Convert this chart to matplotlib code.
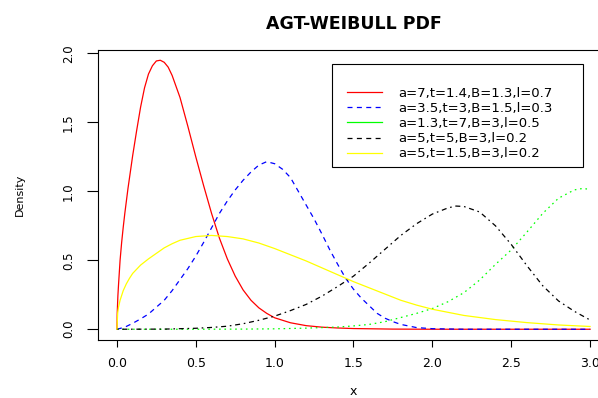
import matplotlib.pyplot as plt
from matplotlib.lines import Line2D
from matplotlib.patches import Rectangle

plt.rcParams['font.family'] = 'DejaVu Sans'

# curves
red_x = [0, 0.002, 0.006, 0.01, 0.02, 0.03, 0.04, 0.05, 0.06, 0.07, 0.08, 0.09, 0.1,
         0.125, 0.15, 0.175, 0.2, 0.225, 0.25, 0.275, 0.3, 0.325, 0.35, 0.4, 0.45, 0.5,
         0.55, 0.6, 0.65, 0.7, 0.75, 0.8, 0.85, 0.9, 0.95, 1.0, 1.1, 1.2, 1.3, 1.4, 1.5,
         1.75, 2.0, 2.5, 3.0]
red_y = [0, 0.12, 0.24, 0.32, 0.50, 0.63, 0.74, 0.84, 0.93, 1.02, 1.10, 1.18, 1.26,
         1.44, 1.61, 1.75, 1.85, 1.91, 1.945, 1.95, 1.935, 1.90, 1.84, 1.68, 1.47, 1.25,
         1.04, 0.84, 0.66, 0.51, 0.385, 0.285, 0.21, 0.155, 0.115, 0.083, 0.047, 0.026,
         0.015, 0.009, 0.005, 0.001, 0, 0, 0]

blue_x = [0, 0.05, 0.1, 0.15, 0.2, 0.25, 0.3, 0.35, 0.4, 0.45, 0.5, 0.55, 0.6, 0.65,
          0.7, 0.75, 0.8, 0.85, 0.9, 0.95, 1.0, 1.05, 1.1, 1.15, 1.2, 1.25, 1.3, 1.35,
          1.4, 1.45, 1.5, 1.55, 1.6, 1.65, 1.7, 1.75, 1.8, 1.9, 2.0, 2.2, 2.5, 3.0]
blue_y = [0, 0.015, 0.043, 0.075, 0.11, 0.16, 0.21, 0.28, 0.36, 0.44, 0.53, 0.63, 0.735,
          0.84, 0.93, 1.01, 1.08, 1.14, 1.19, 1.215, 1.20, 1.16, 1.10, 1.00, 0.90, 0.80,
          0.69, 0.575, 0.47, 0.37, 0.29, 0.225, 0.17, 0.115, 0.08, 0.055, 0.035, 0.012,
          0.004, 0, 0, 0]

green_x = [0, 0.5, 0.8, 1.0, 1.2, 1.4, 1.5, 1.6, 1.7, 1.8, 1.9, 2.0, 2.1, 2.2, 2.3, 2.4,
           2.5, 2.6, 2.7, 2.8, 2.9, 2.95, 3.0]
green_y = [0, 0, 0.001, 0.003, 0.008, 0.016, 0.024, 0.035, 0.055, 0.085, 0.115, 0.15,
           0.20, 0.265, 0.357, 0.47, 0.575, 0.705, 0.84, 0.95, 1.01, 1.02, 1.015]

black_x = [0, 0.3, 0.5, 0.6, 0.7, 0.8, 0.9, 1.0, 1.1, 1.2, 1.3, 1.4, 1.5, 1.6, 1.7, 1.8,
           1.9, 2.0, 2.1, 2.15, 2.2, 2.3, 2.4, 2.5, 2.6, 2.7, 2.8, 2.9, 3.0]
black_y = [0, 0.001, 0.007, 0.013, 0.022, 0.04, 0.065, 0.095, 0.135, 0.18, 0.24, 0.31,
           0.385, 0.48, 0.58, 0.68, 0.765, 0.835, 0.88, 0.893, 0.89, 0.85, 0.75, 0.615,
           0.46, 0.315, 0.205, 0.13, 0.067]

yellow_x = [0, 0.005, 0.01, 0.02, 0.04, 0.06, 0.08, 0.1, 0.15, 0.2, 0.25, 0.3, 0.35, 0.4,
            0.5, 0.6, 0.7, 0.8, 0.9, 1.0, 1.1, 1.2, 1.3, 1.4, 1.5, 1.6, 1.7, 1.8, 1.9,
            2.0, 2.2, 2.4, 2.6, 2.8, 3.0]
yellow_y = [0, 0.12, 0.16, 0.21, 0.28, 0.33, 0.37, 0.405, 0.465, 0.51, 0.55, 0.59, 0.62,
            0.645, 0.672, 0.68, 0.672, 0.655, 0.625, 0.585, 0.54, 0.495, 0.445, 0.395,
            0.345, 0.30, 0.255, 0.21, 0.175, 0.145, 0.10, 0.07, 0.048, 0.031, 0.02]

legend_labels = ['a=7,t=1.4,B=1.3,l=0.7', 'a=3.5,t=3,B=1.5,l=0.3', 'a=1.3,t=7,B=3,l=0.5',
                 'a=5,t=5,B=3,l=0.2', 'a=5,t=1.5,B=3,l=0.2']
x_ticks = [0.0, 0.5, 1.0, 1.5, 2.0, 2.5, 3.0]
y_ticks = [0.0, 0.5, 1.0, 1.5, 2.0]

fig = plt.figure(figsize=(5.98, 3.98), dpi=100)
# axes box runs a little past the right edge, like the cropped original
ax = fig.add_axes([98 / 598, 58 / 398, 511 / 598, 290.5 / 398])

lw = 0.9
ax.plot(red_x, red_y, color='#ff0000', lw=lw)
ax.plot(blue_x, blue_y, color='#0000ff', lw=lw, linestyle=(0, (4, 3.5)))
ax.plot(green_x, green_y, color='#00ff00', lw=lw, linestyle=(0, (1.3, 3)))
ax.plot(black_x, black_y, color='black', lw=lw, linestyle=(0, (1.3, 3, 4, 3)))
ax.plot(yellow_x, yellow_y, color='#ffff00', lw=lw)

ax.set_xlim(-0.12, 3.12)
ax.set_ylim(-0.078, 2.028)
ax.set_xticks(x_ticks)
ax.set_xticklabels(['%.1f' % v for v in x_ticks])
ax.set_yticks(y_ticks)
ax.set_yticklabels(['%.1f' % v for v in y_ticks], rotation=90, va='center')
ax.tick_params(axis='x', length=5, width=0.8, pad=7, labelsize=9)
ax.tick_params(axis='y', length=7.9, width=0.8, pad=8.6, labelsize=8.5)
for s in ax.spines.values():
    s.set_linewidth(0.8)
    s.set_color('black')

ax.set_title('AGT-WEIBULL PDF', fontweight='bold', fontsize=12.5, pad=15)
ax.set_xlabel('x', fontsize=9, va='baseline')
ax.xaxis.set_label_coords(0.5, -0.188)
ax.set_ylabel('Density', fontsize=8, va='center')
ax.yaxis.set_label_coords(-0.1526, 0.5)

# legend frame drawn as its own box, entries placed inside it
ax.add_patch(Rectangle((0.4573, 0.5955), 0.4918, 0.3546, transform=ax.transAxes,
                       facecolor='white', edgecolor='black', lw=0.8, zorder=4))
handles = [
    Line2D([], [], color='#ff0000', lw=lw),
    Line2D([], [], color='#0000ff', lw=lw, linestyle=(0, (4, 3.5))),
    Line2D([], [], color='#00ff00', lw=lw),
    Line2D([], [], color='black', lw=lw, linestyle=(0, (4, 3.5))),
    Line2D([], [], color='#ffff00', lw=lw),
]
leg = ax.legend(handles, legend_labels, loc='upper left', bbox_to_anchor=(0.4873, 0.8726),
                frameon=False, fontsize=9.5, borderpad=0, borderaxespad=0,
                labelspacing=0.17, handlelength=2.65, handletextpad=1.2)
leg.set_zorder(5)

fig.savefig('out.png', dpi=100)
